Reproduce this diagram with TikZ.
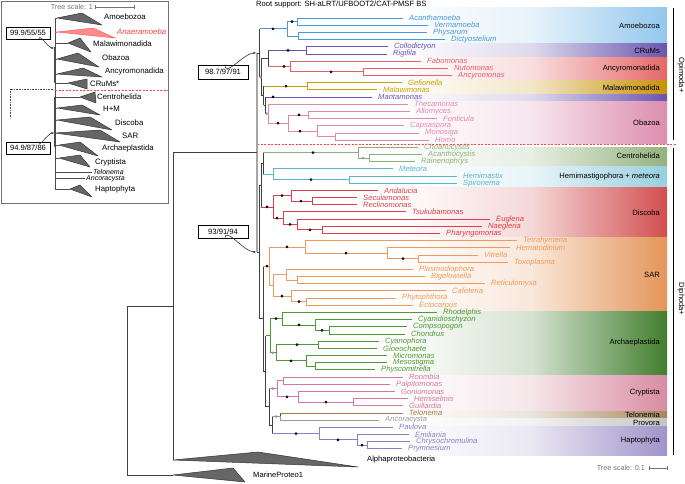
\documentclass[tikz,border=0pt]{standalone}
\usepackage{fontspec}
\setmainfont{Liberation Sans}
\usetikzlibrary{arrows.meta}

% clade colours (branches and taxon names)
\definecolor{amoe}{HTML}{4A97DA}
\definecolor{crum}{HTML}{6B52B8}
\definecolor{ancy}{HTML}{E4606A}
\definecolor{malw}{HTML}{C9A000}
\definecolor{obaz}{HTML}{E386AC}
\definecolor{cent}{HTML}{8DB07A}
\definecolor{hemi}{HTML}{56B6CE}
\definecolor{disc}{HTML}{D9404A}
\definecolor{sar}{HTML}{EF9A5C}
\definecolor{arch}{HTML}{4D9A30}
\definecolor{cryp}{HTML}{D8779A}
\definecolor{telo}{HTML}{A57A45}
\definecolor{anco}{HTML}{9A9A9A}
\definecolor{hapt}{HTML}{8A7EC4}
\colorlet{bbk}{black!75}
% band colours
\definecolor{bamoe}{HTML}{93C7EC}
\definecolor{bcrum}{HTML}{6A55AE}
\definecolor{bancy}{HTML}{E56868}
\definecolor{bmalw}{HTML}{C8920A}
\definecolor{bobaz}{HTML}{DD8DAE}
\definecolor{bcent}{HTML}{94B27F}
\definecolor{bhemi}{HTML}{98CFDE}
\definecolor{bdisc}{HTML}{D24E50}
\definecolor{bsar}{HTML}{E4955A}
\definecolor{barch}{HTML}{427E2E}
\definecolor{bcryp}{HTML}{D88CA2}
\definecolor{btelo}{HTML}{A8865A}
\definecolor{bprov}{HTML}{C4C4C4}
\definecolor{bhapt}{HTML}{A094CA}

\tikzset{
  branch/.style={line width=0.75pt},
  backbone/.style={line width=0.75pt, bbk},
  ibranch/.style={line width=0.6pt, black!70},
  taxon/.style={anchor=west, inner sep=0pt, xshift=6pt, font=\fontsize{7.6}{8}\selectfont\itshape},
  cladelab/.style={anchor=east, inner sep=0pt, font=\fontsize{7.6}{8}\selectfont},
  ilab/.style={anchor=west, inner sep=0pt, font=\fontsize{7.8}{8}\selectfont},
  outlab/.style={anchor=west, inner sep=0pt, font=\fontsize{7.6}{8}\selectfont},
  scalelab/.style={inner sep=0pt, text=black!55, font=\fontsize{7.2}{8}\selectfont},
  fullsup/.style={fill=black},
  partsup/.style={fill=black!40},
  supbox/.style={draw, line width=0.6pt, inner sep=1pt, minimum width=50pt, minimum height=14pt, font=\fontsize{7.6}{8}\selectfont},
  suparrow/.style={line width=0.6pt, black!80, -{Stealth[length=3pt,width=2.4pt]}, shorten >=1pt},
  collapsed/.style={fill=black!60, draw=black!80, line width=0.5pt, line join=round},
  divider/.style={draw=red!75, line width=0.6pt, dash pattern=on 2pt off 1.5pt}
}

\begin{document}
\begin{tikzpicture}[x=1pt,y=-1pt]
\useasboundingbox (0,0) rectangle (685,483);

% colour bands behind the tree
\foreach \ya/\yb/\c in {7/43/bamoe, 43/57/bcrum, 57/80/bancy, 80/94/bmalw, 94/101/bcrum,
  101/143/bobaz, 147/166/bcent, 166/187/bhemi, 187/237/bdisc, 237/311/bsar,
  311/375/barch, 375/411/bcryp, 411/418/btelo, 418/426/bprov, 426/455/bhapt}
  \shade[left color=white, right color=\c, middle color=\c!22] (395,\ya) rectangle (667,\yb);

% clade names on the bands
\foreach \y/\lab [count=\k] in {26/Amoebozoa, 51/CRuMs, 69/Ancyromonadida, 88/Malawimonadida,
  123/Obazoa, 156/Centrohelida, 177/{Hemimastigophora + \textit{meteora}}, 213/Discoba,
  275/SAR, 343/Archaeplastida, 393/Cryptista, 414.5/Telonemia, 422.5/Provora, 441/Haptophyta}
  \node[cladelab] (band\k) at (660,\y) {\lab};

% Opimoda / Diphoda split
\draw[divider] (257,144.6) -- (676,144.6);
\draw[line width=0.7pt] (673,8) -- (673,140) (673,148) -- (673,455);
\node[rotate=-90, inner sep=0pt, font=\fontsize{7.6}{8}\selectfont] (opi) at (681,75) {Opimoda+};
\node[rotate=-90, inner sep=0pt, font=\fontsize{7.6}{8}\selectfont] (dip) at (681,299) {Diphoda+};

% leaves
\foreach \nm/\tx/\i/\col/\lab in {
  aca/403/0/amoe/Acanthamoeba, ver/428/1/amoe/Vermamoeba, phy/427/2/amoe/Physarum,
  dic/445/3/amoe/Dictyostelium, col/388/4/crum/Collodictyon, rig/387/5/crum/Rigifila,
  fab/421/6/ancy/Fabomonas, nut/448/7/ancy/Nutomonas, acr/452/8/ancy/Ancyromonas,
  gef/402/9/malw/Gefionella, mal/377/10/malw/Malawimonas, man/372/11/crum/Mantamonas,
  the/408/12/obaz/Thecamonas, all/410/13/obaz/Allomyces, fon/437/14/obaz/Fonticula,
  cap/404/15/obaz/Capsaspora, mon/419/16/obaz/Monosiga, hom/429/17/obaz/Homo,
  cho/418/18/cent/Choanocystis, acy/422/19/cent/Acanthocystis, rai/415/20/cent/Raineriophrys,
  met/393/21/hemi/Meteora, hmx/457/22/hemi/Hemimastix, spi/457/23/hemi/Spironema,
  adl/378/24/disc/Andalucia, sec/357/25/disc/Seculamonas, rec/357/26/disc/Reclinomonas,
  tsu/406/27/disc/Tsukubamonas, eug/490/28/disc/Euglena, nae/482/29/disc/Naegleria,
  pha/440/30/disc/Pharyngomonas, tet/517/31/sar/Tetrahymena, hem/510/32/sar/Hematodinium,
  vit/478/33/sar/Vitrella, tox/508/34/sar/Toxoplasma, pla/413/35/sar/Plasmodiophora,
  big/425/36/sar/Bigelowiella, ret/485/37/sar/Reticulomyxa, caf/446/38/sar/Cafeteria,
  pht/396/39/sar/Phytophthora, ect/413/40/sar/Ectocarpus, rho/437/41/arch/Rhodelphis,
  cya/412/42/arch/Cyanidioschyzon, com/407/43/arch/Compsopogon, chd/405/44/arch/Chondrus,
  cyo/379/45/arch/Cyanophora, glo/377/46/arch/Gloeochaete, mic/387/47/arch/Micromonas,
  mes/387/48/arch/Mesostigma, phs/375/49/arch/Physcomitrella, roo/403/50/cryp/Roombia,
  pal/390/51/cryp/Palpitomonas, gon/395/52/cryp/Goniomonas, hms/408/53/cryp/Hemiselmis,
  gui/403/54/cryp/Guillardia, tel/403/55/telo/Telonema, anc/379/56/anco/Ancoracysta,
  pav/393/57/hapt/Pavlova, emi/409/58/hapt/Emiliania, chr/410/59/hapt/Chrysochromulina,
  pry/402/60/hapt/Prymnesium}
{
  \coordinate (\nm) at (\tx,{18+7.18*\i});
  \node[taxon, text=\col] (\nm-t) at (\nm) {\lab};
}

% inner nodes
\foreach \nm/\x/\y in {
  A0/287/28.77, A1/297/21.59, A2/298/35.95, C/306/50.31, An/290/66.47, NA/363/71.85,
  Q/268/58.39, Mw/307/86.21, Hm/308/114.93, MH/335/136.47, Hz/317/131.09, Obp/288/123.01,
  Obz/268/113.59, N/265.5/105.28, M/263.5/95.75, P/261.5/77.07, O/259.5/52.92,
  AR/369/158.01, Ce/358/152.63, HS/349/179.55, HM/273/174.17, CH/263/163.40,
  SR/312/201.09, Jak/291/195.71, NP/322/229.81, DC/297/224.43, Disc/283/218.15,
  Dis/273/206.93, U/261/185.17,
  VT/418/258.53, Myz/387/253.15, Alv/305/246.87, BR/297/280.07, Rz/286/274.69,
  PE/306/301.61, Str/291/296.23, RS/273/285.46, S/269/266.17,
  CC/329/330.33, Rd/315/324.95, Rl/282/318.66, Gl/318/344.69, MP/315/366.23,
  Vi/306/360.85, GV/276/352.77, Ar/270/335.72,
  RP/283/380.59, HG/353/402.13, GG/298/396.75, Cr/277/388.67, TA/280/416.49,
  CP/367/445.21, Pr/357/439.83, Hap/319/433.55, TAH/272/425.02, CTH/269/406.85,
  RR/265.5/371.29, L/263/318.73, D/259/251.95, E/257/152.44,
  R1/173/306.22, R0/127/390.61, alp/173/460, mp/173/475}
  \coordinate (\nm) at (\x,\y);

% branches inside the clades
\foreach \c/\a/\b in {
  amoe/A0/A1, amoe/A0/A2, amoe/A1/aca, amoe/A1/ver, amoe/A2/phy, amoe/A2/dic,
  crum/C/col, crum/C/rig,
  ancy/An/fab, ancy/An/NA, ancy/NA/nut, ancy/NA/acr,
  malw/Mw/gef, malw/Mw/mal,
  obaz/Obz/the, obaz/Obz/Obp, obaz/Obp/Hm, obaz/Obp/Hz, obaz/Hm/all, obaz/Hm/fon,
  obaz/Hz/cap, obaz/Hz/MH, obaz/MH/mon, obaz/MH/hom,
  cent/Ce/cho, cent/Ce/AR, cent/AR/acy, cent/AR/rai,
  hemi/HM/met, hemi/HM/HS, hemi/HS/hmx, hemi/HS/spi,
  disc/Dis/Jak, disc/Dis/Disc, disc/Jak/adl, disc/Jak/SR, disc/SR/sec, disc/SR/rec,
  disc/Disc/tsu, disc/Disc/DC, disc/DC/eug, disc/DC/NP, disc/NP/nae, disc/NP/pha,
  sar/S/Alv, sar/S/RS, sar/Alv/tet, sar/Alv/Myz, sar/Myz/hem, sar/Myz/VT, sar/VT/vit,
  sar/VT/tox, sar/RS/Rz, sar/RS/Str, sar/Rz/pla, sar/Rz/BR, sar/BR/big, sar/BR/ret,
  sar/Str/caf, sar/Str/PE, sar/PE/pht, sar/PE/ect,
  arch/Ar/Rl, arch/Ar/GV, arch/Rl/rho, arch/Rl/Rd, arch/Rd/cya, arch/Rd/CC, arch/CC/com,
  arch/CC/chd, arch/GV/Gl, arch/GV/Vi, arch/Gl/cyo, arch/Gl/glo, arch/Vi/mic, arch/Vi/MP,
  arch/MP/mes, arch/MP/phs,
  cryp/Cr/RP, cryp/Cr/GG, cryp/RP/roo, cryp/RP/pal, cryp/GG/gon, cryp/GG/HG,
  cryp/HG/hms, cryp/HG/gui,
  anco/TA/anc,
  hapt/Hap/pav, hapt/Hap/Pr, hapt/Pr/emi, hapt/Pr/CP, hapt/CP/chr, hapt/CP/pry}
  \draw[branch, color=\c] (\a) |- (\b);

% backbone: dark vertical, stem in the colour of the clade
\draw[line width=1.4pt, black!35] (E |- O) -- (E |- D);
\draw[branch, bbk] (E |- O) -- (O) (E |- D) -- (D);
\foreach \a/\b/\c in {
  O/A0/amoe, O/P/bbk, P/Q/bbk, P/M/bbk, Q/C/crum, Q/An/ancy, M/Mw/malw, M/N/bbk,
  N/man/crum, N/Obz/obaz,
  D/U/bbk, D/L/bbk, U/CH/bbk, U/Dis/disc, CH/Ce/cent, CH/HM/hemi, L/S/sar, L/RR/bbk,
  RR/Ar/arch, RR/CTH/bbk, CTH/Cr/cryp, CTH/TAH/bbk, TAH/TA/anco, TAH/Hap/hapt, TA/tel/telo,
  R0/R1/bbk, R0/mp/bbk, R1/E/bbk, R1/alp/bbk}
{
  \draw[backbone] (\a) -- (\a |- \b);
  \draw[branch, color=\c] (\a |- \b) -- (\b);
}

% collapsed outgroups
\filldraw[collapsed] (alp) -- (258,452) -- (358,467) -- cycle;
\node[outlab] (alp-t) at (367,460) {Alphaproteobacteria};
\filldraw[collapsed] (mp) -- (233,468) -- (245,482) -- cycle;
\node[outlab] (mp-t) at (253,475) {MarineProteo1};

% support dots
\foreach \x/\y in {273/28.77, 292/21.59, 288/50.31, 284/66.47, 331/71.85, 286/86.21,
  273/96.98, 278/123.01, 299/114.93, 300/131.09, 313/152.63, 311/179.55, 267/206.93,
  282/195.71, 301/201.09, 277/218.15, 290/224.43, 310/229.81, 267/266.17, 287/246.87,
  346/253.15, 403/258.53, 282/296.23, 299/301.61, 276/318.66, 299/324.95, 322/330.33,
  297/344.69, 291/360.85, 287/396.75, 326/402.13, 296/433.55, 338/439.83, 362/445.21}
  \fill[fullsup] (\x,\y) circle (1.5pt);
\foreach \x/\y in {260.5/77.07, 266.5/113.59, 363/158.01, 273/352.77, 273/388.67, 276/416.49}
  \fill[partsup] (\x,\y) circle (1.5pt);

% root support
\node[supbox] (bx1) at (223,72) {98.7/97/91};
\draw[suparrow] ([xshift=2pt]bx1.north) to[out=-90, in=180] (E |- O);
\node[supbox, minimum height=13pt] (bx2) at (223,232) {93/91/94};
\draw[suparrow] ([xshift=2pt]bx2.south) to[out=90, in=180] (E |- D);
\node[anchor=west, inner sep=0pt, font=\fontsize{7.6}{8}\selectfont] (title) at (256,5)
  {Root support: SH-aLRT/UFBOOT2/CAT-PMSF BS};

% tree scale
\node[scalelab, anchor=east] (sc) at (645,468) {Tree scale: 0.1};
\draw[black!55, line width=0.6pt] (649,468) -- (667,468) (649,466) -- (649,470) (667,466) -- (667,470);

% inset: overview tree
\draw[black!55, line width=0.6pt] (1,1) rectangle (168,203);
\node[scalelab, anchor=east] (isc) at (93,7) {Tree scale: 1};
\draw[black!55, line width=0.6pt] (95,7) -- (134,7) (95,5) -- (95,9) (134,5) -- (134,9);
\coordinate (itop) at (55,18);
\coordinate (ibot) at (55,189);
\draw[ibranch] (itop) -- (ibot);
\draw[ibranch, line width=1.4pt] (55,47) -- (55,83) (55,97) -- (55,147);
\draw[densely dotted, black!70, line width=0.6pt] (53,89) -- (10,89) -- (10,118);
\draw[divider] (55,90) -- (168,90);

\foreach \n/\ax/\ay/\tx/\ty/\bx/\by/\lx/\ly/\lab in {
  amo/57/18/82/13/102/25/104/17/Amoebozoa,
  mlw/68/43/80/38/91/52/93/44/Malawimonadida,
  obz/57/59/78/53/99/67/102/58/Obazoa,
  acm/57/74/83/68/102/77/105/71/Ancyromonadida,
  crm/68/83/87/79/87/89/90/84/CRuMs*,
  cnt/80/97/95/92/96/103/97/97/Centrohelida,
  hpm/57/108/82/105/100/115/103/109/H+M,
  dsc/57/120/90/117/112/130/115/123/Discoba,
  sr/55/133/100/130/120/142/122/136/SAR,
  arc/59/145/80/142/98/156/102/148/Archaeplastida,
  cry/59/158/80/155/90/167/95/162/Cryptista,
  hap/70/189/80/185/92/197/95/189/Haptophyta}
{
  \coordinate (i-\n) at (\ax,\ay);
  \draw[ibranch] (itop |- i-\n) -- (i-\n);
  \filldraw[collapsed] (i-\n) -- (\tx,\ty) -- (\bx,\by) -- cycle;
  \node[ilab] (il-\n) at (\lx,\ly) {\lab};
}
% Anaeramoeba in red
\coordinate (i-ana) at (57,32);
\draw[ibranch, red!70] (itop |- i-ana) -- (i-ana);
\filldraw[fill=red!45, draw=red!65, line width=0.5pt] (i-ana) -- (93,28) -- (115,38) -- cycle;
\node[ilab, text=red!75, font=\fontsize{7.8}{8}\selectfont\itshape] (il-ana) at (117,32) {Anaeramoeba};
% single taxa
\coordinate (i-tel) at (92,172);
\coordinate (i-anc) at (85,178.5);
\draw[ibranch] (itop |- i-tel) -- (i-tel) (itop |- i-anc) -- (i-anc);
\node[ilab, font=\fontsize{7}{7}\selectfont\itshape] (il-tel) at (93,171.5) {Telonema};
\node[ilab, font=\fontsize{7}{7}\selectfont\itshape] (il-anc) at (86,178.8) {Ancoracysta};

% inset support
\node[supbox, minimum width=44pt, minimum height=12pt] (ib1) at (28,33) {99.9/55/55};
\coordinate (iop) at (55,48);
\draw[suparrow] ([xshift=11pt]ib1.south) to[out=90, in=180] (iop);
\node[supbox, minimum width=44pt, minimum height=12pt] (ib2) at (28,148) {94.9/87/86};
\coordinate (idi) at (55,133);
\draw[suparrow] ([xshift=11pt]ib2.north) to[out=-90, in=180] (idi);

\end{tikzpicture}
\end{document}
